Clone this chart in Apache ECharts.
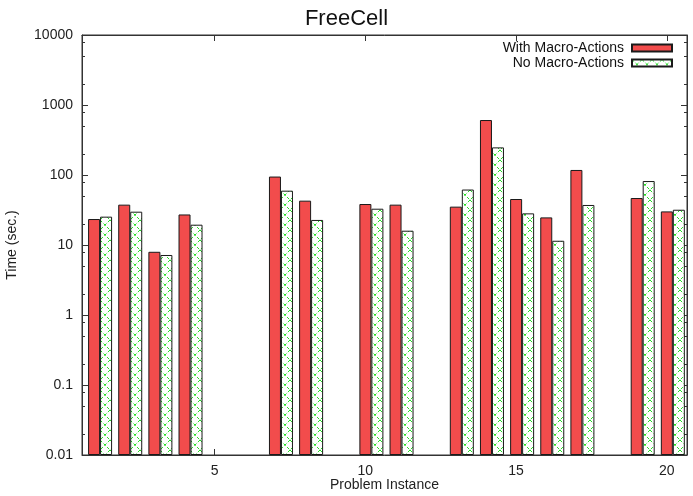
<!DOCTYPE html>
<html>
<head>
<meta charset="utf-8">
<script src="https://cdn.jsdelivr.net/npm/echarts@6/dist/echarts.min.js"></script>
<style>
html,body{margin:0;padding:0;background:#fff;}
#chart{width:693px;height:496px;}
</style>
</head>
<body>
<div id="chart"></div>
<script>
// ---- data ----
const instances = [1,2,3,4,5,6,7,8,9,10,11,12,13,14,15,16,17,18,19,20];
const withMacro = [23.5,37.7,8.0,27.3,null,null,95,43,null,38.5,37.7,null,35.3,610,45.4,24.8,118,null,46.9,30.2];
const noMacro   = [25.4,29.9,7.2,19.5,null,null,59.7,22.8,null,33,16,null,62,248,28.3,11.5,37.3,null,82,31.9];
const xTickValues = [5,10,15,20];
const yMajorTicks = [0.01,0.1,1,10,100,1000,10000];
const yMinorMult = [2,5,8];
const seriesNames = ['With Macro-Actions','No Macro-Actions'];

const yMinorTicks = [];
yMajorTicks.slice(0,-1).forEach(d => yMinorMult.forEach(m => yMinorTicks.push(+(d*m).toPrecision(6))));

// crosshatch pattern
const pc = document.createElement('canvas');
pc.width = 10; pc.height = 10;
const g = pc.getContext('2d');
g.fillStyle = '#ffffff'; g.fillRect(0,0,10,10);
g.strokeStyle = '#22dd22'; g.lineWidth = 1; g.setLineDash([3,2]);
g.beginPath(); g.moveTo(0,0); g.lineTo(10,10); g.stroke();
g.beginPath(); g.moveTo(10,0); g.lineTo(0,10); g.stroke();

const FONT = 'Liberation Sans, Arial, sans-serif';
const fmt = v => String(+(+v).toPrecision(6));

const chart = echarts.init(document.getElementById('chart'), null, {renderer:'canvas'});
const pairs = arr => instances.map((x,i) => [x, arr[i]]);

const xMin = 0.6, xMax = 20.67, shift = 0.2;
const logCommon = {type:'log', logBase:10, min:0.01, max:10000, startValue:0.01, splitLine:{show:false}};

chart.setOption({
  animation:false,
  title:{text:'FreeCell', left:'center', top:3, textStyle:{fontFamily:FONT, fontSize:22, fontWeight:'normal', color:'#111'}},
  legend:{
    data:seriesNames, orient:'vertical', right:20, top:41, align:'right', padding:0,
    icon:'rect', itemWidth:40, itemHeight:7, itemGap:1,
    textStyle:{fontFamily:FONT, fontSize:14, color:'#111', lineHeight:14, padding:[0,3,0,0]}
  },
  grid:{left:82, top:35, width:605, height:420, show:true, borderColor:'#333', borderWidth:1,
        containLabel:false, outerBoundsMode:'none'},
  xAxis:[
    {type:'value', position:'bottom', min:xMin, max:xMax,
     name:'Problem Instance', nameLocation:'middle', nameGap:23, nameMoveOverlap:false,
     nameTextStyle:{fontFamily:FONT, fontSize:14, color:'#222'},
     axisLine:{show:true, lineStyle:{color:'#333'}},
     axisTick:{show:true, inside:true, length:6, customValues:xTickValues, lineStyle:{color:'#333'}},
     axisLabel:{show:true, customValues:xTickValues, margin:9, fontFamily:FONT, fontSize:14, color:'#222', formatter:fmt},
     splitLine:{show:false}},
    {type:'value', position:'top', min:xMin, max:xMax,
     axisLine:{show:true, lineStyle:{color:'#333'}},
     axisTick:{show:true, inside:true, length:6, customValues:xTickValues, lineStyle:{color:'#333'}},
     axisLabel:{show:false}, splitLine:{show:false}},
    {type:'value', position:'bottom', min:xMin-shift, max:xMax-shift, show:false, splitLine:{show:false}}
  ],
  yAxis:[
    Object.assign({}, logCommon, {position:'left',
     name:'Time (sec.)', nameLocation:'middle', nameGap:63, nameRotate:90, nameMoveOverlap:false,
     nameTextStyle:{fontFamily:FONT, fontSize:14, color:'#222'},
     axisLine:{show:true, lineStyle:{color:'#333'}},
     axisTick:{show:true, inside:true, length:6, customValues:yMajorTicks, lineStyle:{color:'#333'}},
     axisLabel:{show:true, customValues:yMajorTicks, margin:9, fontFamily:FONT, fontSize:14, color:'#222', formatter:fmt}}),
    Object.assign({}, logCommon, {position:'left',
     axisLine:{show:false},
     axisTick:{show:true, inside:true, length:3, customValues:yMinorTicks, lineStyle:{color:'#333'}},
     axisLabel:{show:false}}),
    Object.assign({}, logCommon, {position:'right',
     axisLine:{show:true, lineStyle:{color:'#333'}},
     axisTick:{show:true, inside:true, length:6, customValues:yMajorTicks, lineStyle:{color:'#333'}},
     axisLabel:{show:false}}),
    Object.assign({}, logCommon, {position:'right',
     axisLine:{show:false},
     axisTick:{show:true, inside:true, length:3, customValues:yMinorTicks, lineStyle:{color:'#333'}},
     axisLabel:{show:false}})
  ],
  series:[
    {name:seriesNames[0], type:'bar', xAxisIndex:2, yAxisIndex:0, barWidth:12, barGap:'0%',
     data:pairs(withMacro),
     itemStyle:{color:'#f24c4c', borderColor:'#1a1a1a', borderWidth:1}},
    {name:seriesNames[1], type:'bar', xAxisIndex:2, yAxisIndex:0, barWidth:12, barGap:'0%',
     data:pairs(noMacro),
     itemStyle:{color:{image:pc, repeat:'repeat'}, borderColor:'#1a1a1a', borderWidth:1}}
  ]
});
</script>
</body>
</html>
